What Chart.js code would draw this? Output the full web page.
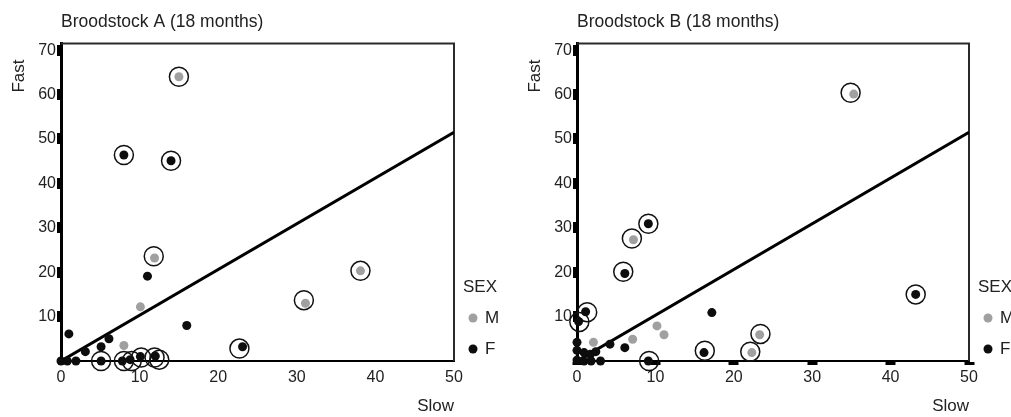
<!DOCTYPE html>
<html lang="en">
<head>
<meta charset="UTF-8">
<script src="https://cdn.jsdelivr.net/npm/chart.js"></script>
<title>Broodstock (18 months)</title>
<style>
  body { margin: 0; background: #fff; }
  canvas { position: absolute; top: 0; }
  #panel-a { left: 0; }
  #panel-b { left: 516px; }
</style>
</head>
<body>
<canvas id="panel-a" width="505" height="417"></canvas>
<canvas id="panel-b" width="495" height="417"></canvas>
<script>
const xTicks = [0, 10, 20, 30, 40, 50];
const yTicks = [10, 20, 30, 40, 50, 60, 70];
const sexLabels = ['M', 'F'];

// Broodstock A  [slow, fast]
const maleA = [[15, 64], [11.9, 23.2], [10.1, 12.2], [8, 3.5], [38.1, 20.3], [31.1, 13]];
const femaleA = [[8, 46.4], [14, 45.1], [11, 19.1], [1, 6.1], [16, 8], [23.1, 3.2], [6.1, 5], [5.1, 3.2],
  [3.1, 2.1], [5.1, 0], [0, 0], [0.8, 0], [1.9, 0], [7.8, 0], [8.8, 0.3], [10.1, 1], [12, 1.1]];
const ringA = [[15, 64], [8, 46.4], [14, 45.1], [11.8, 23.6], [38.1, 20.3], [30.9, 13.7], [22.7, 2.8],
  [5.1, 0], [8, 0], [9, 0], [10.2, 0.8], [11.9, 0.8], [12.5, 0.3]];
const fitA = [[0, 0], [50, 51.5]];

// Broodstock B
const maleB = [[35.3, 60.1], [7.2, 27.3], [23.3, 5.9], [22.3, 1.9], [10.2, 7.9], [11.1, 5.9], [7.1, 4.9], [2.1, 4.2]];
const femaleB = [[43.2, 15], [9.1, 30.9], [6.1, 19.7], [1.1, 11.1], [0.2, 8.9], [17.2, 10.9], [16.2, 1.9],
  [6.1, 3], [4.2, 3.8], [9.1, 0], [0, 4.2], [0, 2.4], [0, 0.2], [0.9, 1.9], [1.7, 1.5], [2.4, 2.1],
  [0.9, 0], [1.8, 0], [3, 0]];
const ringB = [[34.9, 60.4], [43.2, 15], [23.4, 6.1], [22.1, 2.1], [16.3, 2.3], [9.1, 30.9], [7, 27.6],
  [5.9, 20.1], [1.3, 11], [0.3, 8.8], [9.2, 0]];
const fitB = [[0, 0], [50, 51.5]];

const family = '"Liberation Sans", Arial, sans-serif';
const grey = '#a0a0a0';
const black = '#0d0d0d';
const textCol = '#222';

const pts = arr => arr.map(p => ({ x: p[0], y: p[1] }));

// frame, y title and SEX legend
const decor = {
  id: 'decor',
  beforeDatasetsDraw(chart) {
    const { ctx, chartArea: a } = chart;
    ctx.save();
    ctx.strokeStyle = '#2a2a2a';
    ctx.lineWidth = 2;
    ctx.beginPath();
    ctx.moveTo(a.left, a.top);
    ctx.lineTo(a.right, a.top);
    ctx.lineTo(a.right, a.bottom);
    ctx.stroke();
    ctx.restore();
  },
  afterDraw(chart) {
    const { ctx, chartArea: a } = chart;
    ctx.save();
    ctx.fillStyle = textCol;
    ctx.font = '17px ' + family;

    ctx.save();
    ctx.translate(a.left - 42, a.top + 16);
    ctx.rotate(-Math.PI / 2);
    ctx.textAlign = 'right';
    ctx.textBaseline = 'middle';
    ctx.fillText('Fast', 0, 0);
    ctx.restore();

    ctx.textAlign = 'left';
    ctx.textBaseline = 'middle';
    ctx.fillText('SEX', a.right + 9, a.bottom - 74);
    const ds = chart.data.datasets;
    sexLabels.forEach((lab, i) => {
      const y = a.bottom - 43 + i * 31;
      ctx.fillStyle = ds[i].backgroundColor;
      ctx.beginPath();
      ctx.arc(a.right + 19, y, 4.5, 0, Math.PI * 2);
      ctx.fill();
      ctx.fillStyle = textCol;
      ctx.fillText(lab, a.right + 31, y);
    });
    ctx.restore();
  }
};

function panel(id, title, male, female, rings, fit, rightPad, xTickColor) {
  return new Chart(document.getElementById(id), {
    type: 'scatter',
    data: {
      datasets: [
        { label: 'M', data: pts(male), backgroundColor: grey, borderWidth: 0, pointRadius: 4.5, clip: false },
        { label: 'F', data: pts(female), backgroundColor: black, borderWidth: 0, pointRadius: 4.5, clip: false },
        { label: 'ring', data: pts(rings), backgroundColor: 'rgba(0,0,0,0)', borderColor: '#111',
          borderWidth: 1.5, pointRadius: 9.5, clip: false },
        { label: 'fit', data: pts(fit), showLine: true, borderColor: '#000', borderWidth: 3,
          pointRadius: 0, pointHoverRadius: 0 }
      ]
    },
    options: {
      responsive: false,
      animation: false,
      devicePixelRatio: 1,
      events: [],
      layout: { padding: { left: 0, right: rightPad, top: 0, bottom: 0 } },
      plugins: {
        legend: { display: false },
        tooltip: { enabled: false },
        title: {
          display: true, text: title, align: 'start', fullSize: false, color: textCol,
          font: { size: 17.5, family: family, weight: 'normal' },
          padding: { top: 12, bottom: 10.5 }
        }
      },
      scales: {
        x: {
          type: 'linear', min: 0, max: 50,
          afterBuildTicks: s => { s.ticks = xTicks.map(v => ({ value: v })); },
          afterFit: s => { s.height = 56; },
          ticks: { color: textCol, font: { size: 16, family: family }, padding: 3, maxRotation: 0 },
          grid: { drawOnChartArea: false, tickLength: 4, tickWidth: 10, tickColor: xTickColor },
          border: { display: true, color: '#000', width: 2 },
          title: {
            display: true, text: 'Slow', align: 'end', color: textCol,
            font: { size: 17, family: family }, padding: { top: 0, bottom: 0 }
          }
        },
        y: {
          type: 'linear', min: 0, max: 71.5,
          afterBuildTicks: s => { s.ticks = yTicks.map(v => ({ value: v })); },
          afterFit: s => { s.width = 61; },
          ticks: { color: textCol, font: { size: 16, family: family }, padding: 1 },
          grid: { drawOnChartArea: false, tickLength: 4, tickWidth: 11, tickColor: '#000' },
          border: { display: true, color: '#000', width: 3 }
        }
      }
    },
    plugins: [decor]
  });
}

panel('panel-a', 'Broodstock A (18 months)', maleA, femaleA, ringA, fitA, 51, 'rgba(0,0,0,0)');
panel('panel-b', 'Broodstock B (18 months)', maleB, femaleB, ringB, fitB, 42, '#000');
</script>
</body>
</html>
